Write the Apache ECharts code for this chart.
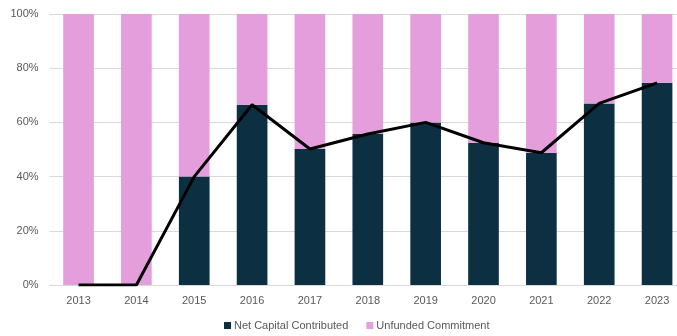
<!DOCTYPE html>
<html>
<head>
<meta charset="utf-8">
<script src="https://cdn.jsdelivr.net/npm/echarts@6/dist/echarts.min.js"></script>
<style>
  html, body { margin: 0; padding: 0; background: #ffffff; overflow: hidden; }
  #chart { width: 686px; height: 336px; }
</style>
</head>
<body>
<div id="chart"></div>
<script>
// Vintage years
const years = ['2013', '2014', '2015', '2016', '2017', '2018', '2019', '2020', '2021', '2022', '2023'];
// Share of commitment contributed (%)
const netCapitalContributed = [0, 0, 40, 66.5, 50.2, 55.7, 60, 52.5, 48.8, 67, 74.6];
// Share of commitment still unfunded (%)
const unfundedCommitment = [100, 100, 60, 33.5, 49.8, 44.3, 40, 47.5, 51.2, 33, 25.4];
// Y axis ticks (%)
const yTicks = [0, 20, 40, 60, 80, 100];

const textColor = '#595959';
const fontFamily = 'Liberation Sans, Arial, sans-serif';

const chart = echarts.init(document.getElementById('chart'), null, { renderer: 'canvas' });
chart.setOption({
  animation: false,
  textStyle: { fontFamily: fontFamily },
  grid: { left: 49.6, right: 0, top: 14, bottom: 51, containLabel: false },
  legend: {
    bottom: 0,
    left: 219,
    itemWidth: 7,
    itemHeight: 7,
    itemGap: 18,
    icon: 'rect',
    textStyle: { color: textColor, fontSize: 11, fontFamily: fontFamily, padding: [0, 0, 0, -2] },
    data: ['Net Capital Contributed', 'Unfunded Commitment']
  },
  xAxis: {
    type: 'category',
    data: years,
    axisLine: { show: true, lineStyle: { color: '#d9d9d9', width: 1 } },
    axisTick: { show: false },
    axisLabel: { color: textColor, fontSize: 11, margin: 10 }
  },
  yAxis: {
    type: 'value',
    min: yTicks[0],
    max: yTicks[yTicks.length - 1],
    interval: yTicks[1] - yTicks[0],
    axisLine: { show: false },
    axisTick: { show: false },
    splitLine: { lineStyle: { color: '#d9d9d9', width: 1 } },
    axisLabel: { color: textColor, fontSize: 11, margin: 11, formatter: v => v + '%' }
  },
  series: [
    {
      name: 'Net Capital Contributed',
      type: 'bar',
      stack: 'total',
      barWidth: '53%',
      itemStyle: { color: '#0c3042' },
      data: netCapitalContributed
    },
    {
      name: 'Unfunded Commitment',
      type: 'bar',
      stack: 'total',
      barWidth: '53%',
      itemStyle: { color: '#e59edc' },
      data: unfundedCommitment
    },
    {
      name: 'Contributed Trend',
      type: 'line',
      data: netCapitalContributed,
      showSymbol: false,
      symbol: 'none',
      lineStyle: { color: '#000000', width: 3 },
      z: 5
    }
  ]
});
</script>
</body>
</html>
